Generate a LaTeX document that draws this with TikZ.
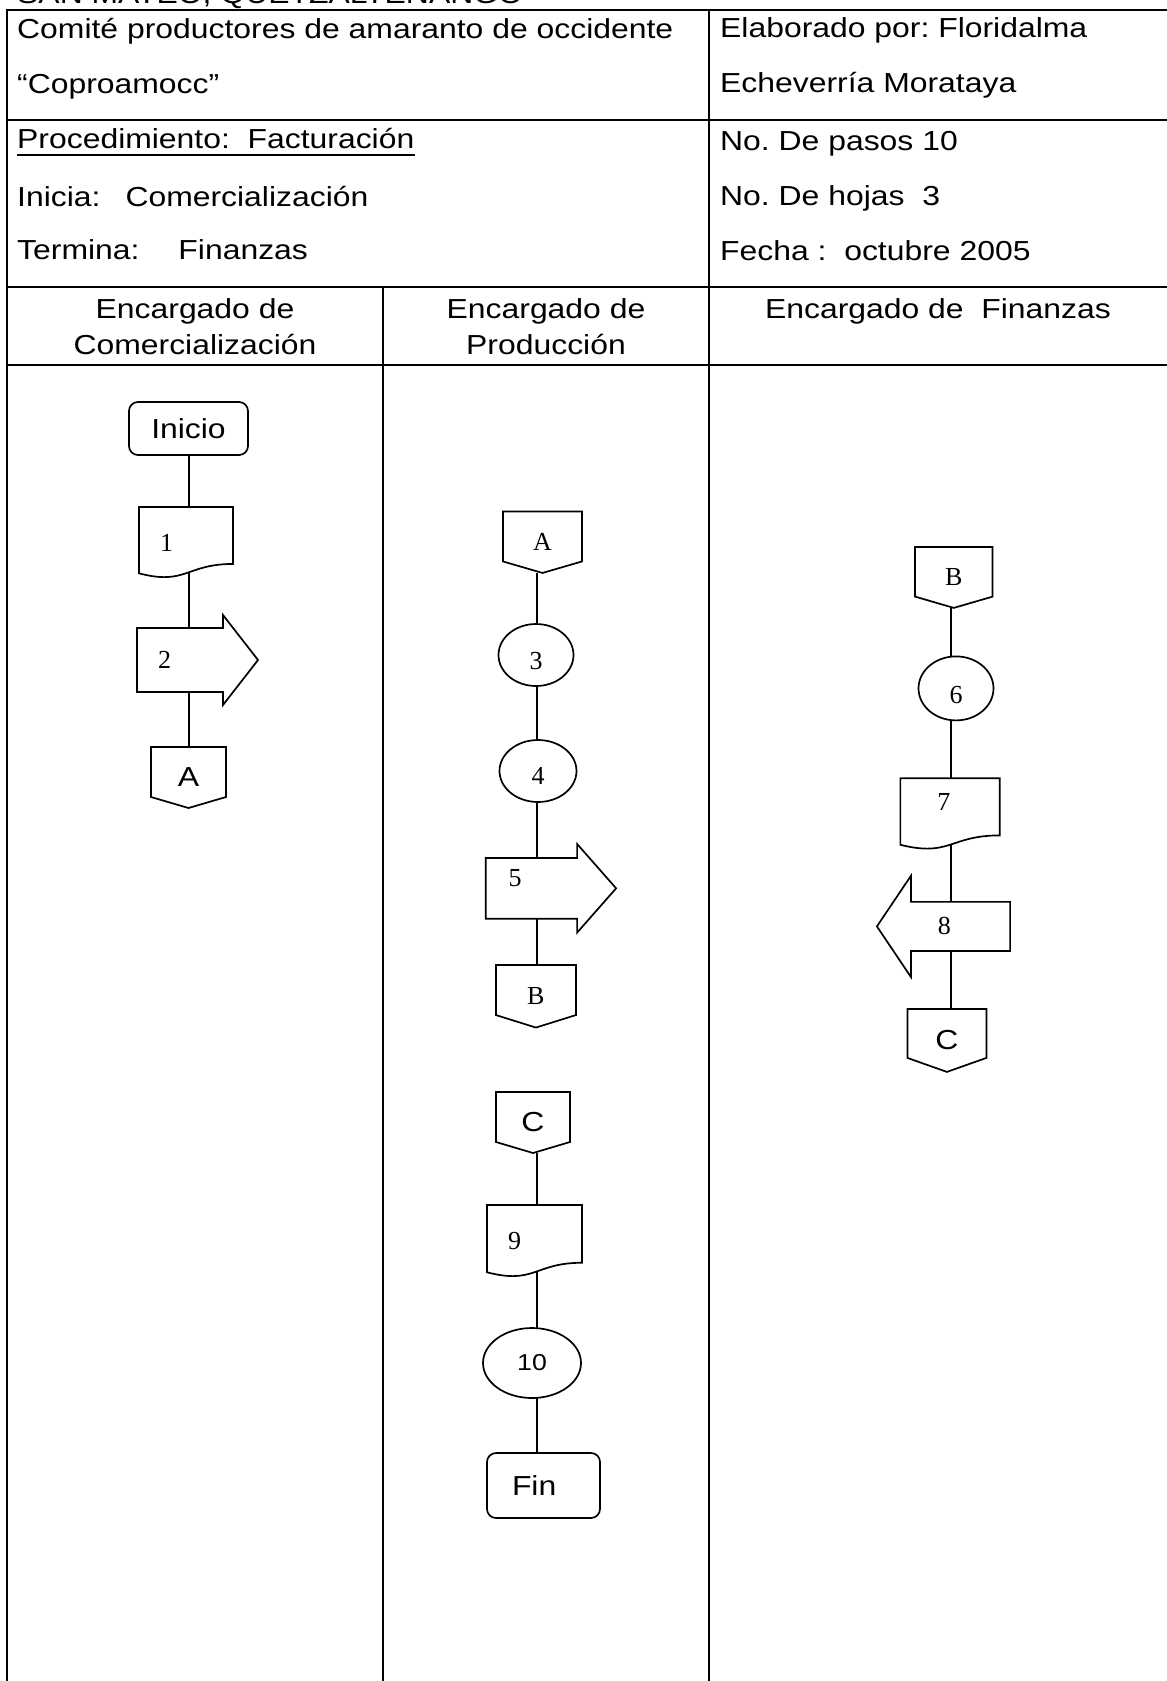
\documentclass[tikz,border=0pt]{standalone}
\usepackage{fontspec}
\setmainfont{Liberation Sans}
\newfontfamily\arialw[FakeStretch=1.16]{Liberation Sans}
\newfontfamily\timesw{Liberation Serif}
\usetikzlibrary{shapes.geometric,calc}
\frenchspacing

% digit moved up (positive) or down (negative) inside its shape
\newcommand\numshift[2]{\raisebox{#1}[0pt][0pt]{#2}}

% outlines drawn around plain named nodes
\newcommand\docoutline[1]{\draw[outline] (#1.north west) -- (#1.north east)
  -- ($(#1.north east)!0.802!(#1.south east)$)
  .. controls ($(#1.north)!0.802!(#1.south)$) and ($(#1.north)!1.108!(#1.south)$)
  .. ($(#1.north west)!0.934!(#1.south west)$) -- cycle;}
\newcommand\rarrowoutline[3]{\draw[outline] (#1.north west) -- (#1.north east)
  -- ++(0,-#2) -- ($(#1.east)+(#3,0)$) -- ($(#1.south east)+(0,#2)$)
  -- (#1.south east) -- (#1.south west) -- cycle;}
\newcommand\larrowoutline[3]{\draw[outline] (#1.north east) -- (#1.north west)
  -- ++(0,-#2) -- ($(#1.west)+(-#3,0)$) -- ($(#1.south west)+(0,#2)$)
  -- (#1.south west) -- (#1.south east) -- cycle;}
\newcommand\offpageoutline[2]{\draw[outline] (#1.north west) -- (#1.north east)
  -- ($(#1.south east)+(0,-#2)$) -- (#1.south) -- ($(#1.south west)+(0,-#2)$) -- cycle;}

\tikzset{
  rule/.style={line width=2.2pt},
  link/.style={line width=1.7pt},
  outline/.style={line width=1.7pt, line join=miter},
  formtext/.style={inner sep=0pt, anchor=base west, font=\fontsize{27.5}{33}\arialw},
  headtext/.style={inner sep=0pt, anchor=base, font=\fontsize{27.5}{33}\arialw},
  shapebox/.style={inner sep=0pt, outer sep=0pt},
  serifnum/.style={font=\fontsize{26}{30}\timesw},
  sanslabel/.style={font=\fontsize{27.5}{32}\arialw},
  terminal/.style={shapebox, draw, outline, rounded corners=9pt, sanslabel},
  circlestep/.style={shapebox, draw, outline, ellipse, serifnum},
  docstep/.style={shapebox, serifnum, align=left},
  arrowstep/.style={shapebox, serifnum, align=left},
  offpage/.style={shapebox},
}

\begin{document}
\begin{tikzpicture}[x=1pt,y=-1pt]
\useasboundingbox (0,0) rectangle (1167,1681);
\clip (0,0) rectangle (1167,1681);

% heading line above the form
\node[formtext] (place) at (17,3) {SAN MATEO, QUETZALTENANGO};

% form frame
\draw[rule] (7,1681) -- (7,10) -- (1167,10);
\draw[rule] (7,120) -- (1167,120);
\draw[rule] (7,287) -- (1167,287);
\draw[rule] (7,365) -- (1167,365);
\draw[rule] (709,10) -- (709,1681);
\draw[rule] (383,287) -- (383,1681);

% header fields
\node[formtext] (org) at (17,38) {Comité productores de amaranto de occidente};
\node[formtext] (acr) at (17,93) {“Coproamocc”};
\node[formtext] (proc) at (17,148) {Procedimiento:~ Facturación};
\draw[rule] ([yshift=-7pt]proc.base west) -- ([yshift=-7pt]proc.base east);
\node[formtext] (ini) at (17,206) {Inicia:\hspace{25pt}Comercialización};
\node[formtext] (ter) at (17,259) {Termina:\hspace{39pt}Finanzas};
\node[formtext] (auth1) at (720,37) {Elaborado por: Floridalma};
\node[formtext] (auth2) at (720,92) {Echeverría Morataya};
\node[formtext] (steps) at (720,150) {No. De pasos 10};
\node[formtext] (sheets) at (720,205) {No. De hojas~ 3};
\node[formtext] (date) at (720,260) {Fecha :~ octubre 2005};

% lane titles
\node[headtext] (h1a) at (195,318) {Encargado de};
\node[headtext] (h1b) at (195,354) {Comercialización};
\node[headtext] (h2a) at (546,318) {Encargado de};
\node[headtext] (h2b) at (546,354) {Producción};
\node[headtext] (h3) at (938,318) {Encargado de~ Finanzas};

% lane axes
\coordinate (lane1) at (189,0);
\coordinate (lane2) at (537,0);
\coordinate (lane3) at (951,0);

% lane 1
\node[terminal, minimum width=119pt, minimum height=53pt] (start) at (188.5,428.5) {Inicio};
\node[docstep, minimum width=94pt, minimum height=71pt, inner xsep=21pt, text width=52pt] (s1) at (186,542.5) {1};
\docoutline{s1}
\node[arrowstep, minimum width=86pt, minimum height=64pt, inner xsep=21pt, text width=44pt] (s2) at (180,660) {2};
\rarrowoutline{s2}{13}{35}
\node[offpage, sanslabel, minimum width=75pt, minimum height=61pt] (conA1) at (188.5,777.5) {A};
\offpageoutline{conA1}{11}

% lane 2
\node[offpage, serifnum, minimum width=79pt, minimum height=61.5pt] (conA2) at (542.5,542.2) {A};
\offpageoutline{conA2}{11.5}
\node[circlestep, minimum width=75pt, minimum height=62pt] (s3) at (536,655) {\numshift{-14pt}{3}};
\node[circlestep, minimum width=77pt, minimum height=62pt] (s4) at (538,771) {\numshift{-13pt}{4}};
\node[arrowstep, minimum width=91.4pt, minimum height=60.7pt, inner xsep=23pt, text width=45.4pt] (s5) at (531.4,888.3) {\numshift{2pt}{5}};
\rarrowoutline{s5}{14}{39}
\node[offpage, serifnum, minimum width=80pt, minimum height=62.5pt] (conB2) at (535.9,996.3) {B};
\offpageoutline{conB2}{12.5}
\node[offpage, sanslabel, minimum width=74pt, minimum height=61pt] (conC2) at (533,1122.5) {C};
\offpageoutline{conC2}{11}
\node[docstep, minimum width=95pt, minimum height=72pt, inner xsep=21pt, text width=53pt] (s9) at (534.5,1241) {9};
\docoutline{s9}
\node[circlestep, font=\fontsize{23}{26}\arialw, minimum width=98pt, minimum height=70pt] (s10) at (532,1363) {10};
\node[terminal, minimum width=113pt, minimum height=65pt, inner xsep=25pt, text width=63pt, align=left] (finish) at (543.5,1485.5) {Fin};

% lane 3
\node[offpage, serifnum, minimum width=77.5pt, minimum height=61pt] (conB3) at (953.8,577.4) {B};
\offpageoutline{conB3}{11.3}
\node[circlestep, minimum width=75pt, minimum height=64pt] (s6) at (956,688.4) {\numshift{-15pt}{6}};
\node[docstep, minimum width=99.3pt, minimum height=71.2pt, inner xsep=37pt, text width=25.3pt] (s7) at (950,813.9) {\numshift{3pt}{7}};
\docoutline{s7}
\node[arrowstep, minimum width=99.2pt, minimum height=49.1pt, inner xsep=27pt, text width=45.2pt] (s8) at (960.5,926.4) {8};
\larrowoutline{s8}{26}{34}
\node[offpage, sanslabel, minimum width=79pt, minimum height=63pt] (conC3) at (946.9,1040.4) {C};
\offpageoutline{conC3}{14}

% points where links leave the wavy document bottoms
\coordinate (s1w) at ($(s1.north)!0.93!(s1.south)$);
\coordinate (s7w) at ($(s7.north)!0.93!(s7.south)$);
\coordinate (s9w) at ($(s9.north)!0.93!(s9.south)$);

% links
\draw[link] (lane1 |- start.south) -- (lane1 |- s1.north);
\draw[link] (lane1 |- s1w) -- (lane1 |- s2.north);
\draw[link] (lane1 |- s2.south) -- (lane1 |- conA1.north);

\draw[link] (lane2 |- conA2.south) -- (lane2 |- s3.north);
\draw[link] (lane2 |- s3.south) -- (lane2 |- s4.north);
\draw[link] (lane2 |- s4.south) -- (lane2 |- s5.north);
\draw[link] (lane2 |- s5.south) -- (lane2 |- conB2.north);
\draw[link] (lane2 |- conC2.south) -- (lane2 |- s9.north);
\draw[link] (lane2 |- s9w) -- (lane2 |- s10.north);
\draw[link] (lane2 |- s10.south) -- (lane2 |- finish.north);

\draw[link] (lane3 |- conB3.south) -- (lane3 |- s6.north);
\draw[link] (lane3 |- s6.south) -- (lane3 |- s7.north);
\draw[link] (lane3 |- s7w) -- (lane3 |- s8.north);
\draw[link] (lane3 |- s8.south) -- (lane3 |- conC3.north);
\end{tikzpicture}
\end{document}
